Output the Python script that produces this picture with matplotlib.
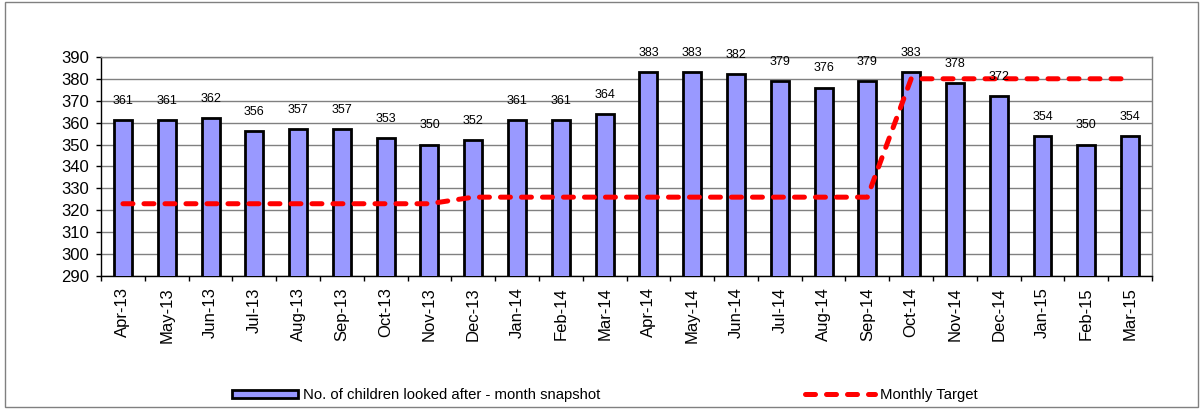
import matplotlib
matplotlib.use("Agg")
import matplotlib.pyplot as plt
from matplotlib.patches import Rectangle

plt.rcParams['font.family'] = ['Liberation Sans', 'DejaVu Sans']

months = ["Apr-13", "May-13", "Jun-13", "Jul-13", "Aug-13", "Sep-13", "Oct-13", "Nov-13",
          "Dec-13", "Jan-14", "Feb-14", "Mar-14", "Apr-14", "May-14", "Jun-14", "Jul-14",
          "Aug-14", "Sep-14", "Oct-14", "Nov-14", "Dec-14", "Jan-15", "Feb-15", "Mar-15"]
children = [361, 361, 362, 356, 357, 357, 353, 350, 352, 361, 361, 364,
            383, 383, 382, 379, 376, 379, 383, 378, 372, 354, 350, 354]
target = [323, 323, 323, 323, 323, 323, 323, 323, 326, 326, 326, 326,
          326, 326, 326, 326, 326, 326, 380, 380, 380, 380, 380, 380]

fig = plt.figure(figsize=(12.03, 4.09), dpi=100)
ax = fig.add_axes([0.084, 0.325, 0.8736, 0.536])

x = list(range(len(months)))
ax.bar(x, children, width=0.41, color="#9999FF", edgecolor="black", linewidth=2.0,
       zorder=3, label="No. of children looked after - month snapshot")
ax.plot(x, target, color="#FF0000", linestyle=(0, (2.0, 2.2)), linewidth=3.6,
        dash_capstyle="round", zorder=4, label="Monthly Target")

for xi, v in zip(x, children):
    ax.annotate(str(v), (xi, v), xytext=(0, 9.5), textcoords="offset points",
                ha="center", va="bottom", fontsize=9, zorder=5)

ax.set_ylim(290, 390)
ax.set_xlim(-0.5, len(months) - 0.5)
ax.set_yticks(range(290, 391, 10))
ax.set_xticks(x)
ax.set_xticklabels(months, rotation=90, fontsize=12)
ax.tick_params(axis="y", labelsize=12, length=3.6, width=1.0, color="black", pad=5)
ax.set_xticks([i - 0.5 for i in range(len(months) + 1)], minor=True)
ax.tick_params(axis="x", which="major", length=0, pad=8)
ax.tick_params(axis="x", which="minor", length=3.6, width=1.0, color="black")
ax.grid(axis="y", color="#808080", linewidth=1.0, zorder=0)
for name, s in ax.spines.items():
    s.set_linewidth(1.0)
    s.set_color("black" if name in ("left", "bottom") else "#808080")

handles, labels = ax.get_legend_handles_labels()
fig.legend([handles[1]], [labels[1]], loc="center left", bbox_to_anchor=(232 / 1203, 0.034),
           frameon=False, fontsize=10.7, handlelength=4.44, handleheight=0.5,
           handletextpad=0.34, borderpad=0, borderaxespad=0)
fig.legend([handles[0]], [labels[0]], loc="center left", bbox_to_anchor=(805 / 1203, 0.034),
           frameon=False, fontsize=10.7, handlelength=4.7,
           handletextpad=0.34, borderpad=0, borderaxespad=0)

fig.patches.append(Rectangle((0.004, 0.004), 0.992, 0.992, transform=fig.transFigure,
                             fill=False, edgecolor="#808080", linewidth=1.0))

fig.savefig("out.png", dpi=100)
